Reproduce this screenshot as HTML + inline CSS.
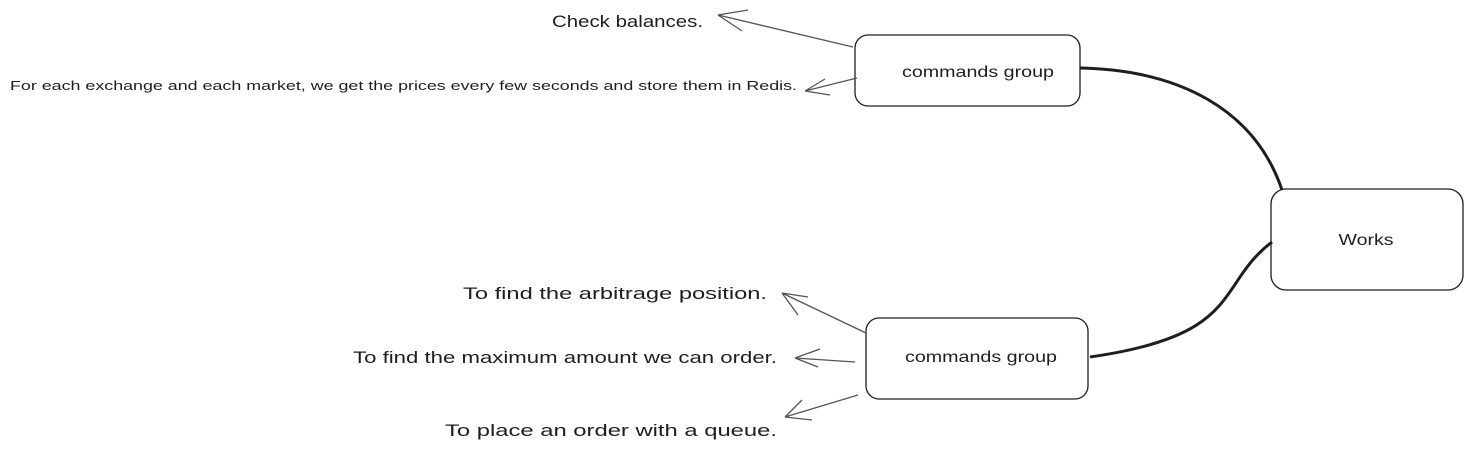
<!DOCTYPE html>
<html><head><meta charset="utf-8"><style>html,body{margin:0;padding:0;background:#fff}svg{display:block}</style></head>
<body>
<svg width="1469" height="450" viewBox="0 0 1469 450" xmlns="http://www.w3.org/2000/svg" font-family="Liberation Sans, sans-serif" fill="#1e1e1e">
<g fill="none" stroke="#1e1e1e" stroke-width="1.3">
<rect x="855" y="35" width="225" height="71" rx="13"/>
<rect x="866" y="318" width="222" height="81" rx="13"/>
<rect x="1271" y="189" width="192" height="101" rx="15"/>
<path d="M1080,68 C1180,70 1255,110 1282,190" stroke-width="3"/>
<path d="M1272,242 C1215,285 1245,335 1090,357" stroke-width="3"/>
<g stroke="#555" stroke-width="1.3">
<path d="M853,47 L718,15 M718,15 L748,10 M718,15 L742,31"/>
<path d="M857,78 L805,91 M805,91 L825,79 M805,91 L830,95"/>
<path d="M866,333 L782,293 M782,293 L798,315 M782,293 L808,297"/>
<path d="M855,362 L795,358 M795,358 L820,349 M795,358 L818,367"/>
<path d="M858,395 L785,417 M785,417 L802,400 M785,417 L812,420"/>
</g>
</g>
<g font-size="16">
<text x="978" y="77" text-anchor="middle" textLength="152" lengthAdjust="spacingAndGlyphs">commands group</text>
<text x="981" y="362" text-anchor="middle" textLength="152" lengthAdjust="spacingAndGlyphs">commands group</text>
<text x="1366" y="245" text-anchor="middle" textLength="55" lengthAdjust="spacingAndGlyphs">Works</text>
<text x="552" y="27" textLength="151" lengthAdjust="spacingAndGlyphs" font-size="17">Check balances.</text>
<text x="10" y="90" textLength="787" lengthAdjust="spacingAndGlyphs" font-size="13">For each exchange and each market, we get the prices every few seconds and store them in Redis.</text>
<text x="463" y="299" textLength="304" lengthAdjust="spacingAndGlyphs" font-size="17">To find the arbitrage position.</text>
<text x="353" y="363" textLength="424" lengthAdjust="spacingAndGlyphs" font-size="17">To find the maximum amount we can order.</text>
<text x="445" y="436" textLength="332" lengthAdjust="spacingAndGlyphs" font-size="17">To place an order with a queue.</text>
</g>
</svg>
</body></html>
